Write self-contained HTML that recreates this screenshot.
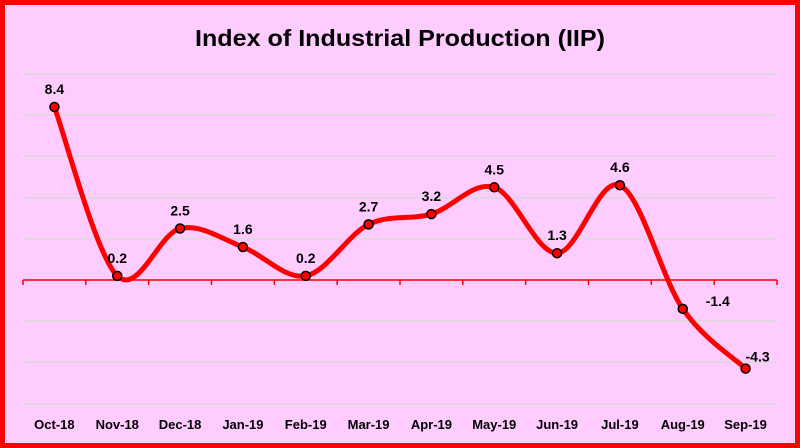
<!DOCTYPE html>
<html><head><meta charset="utf-8"><style>
html,body{margin:0;padding:0;width:800px;height:448px;overflow:hidden;background:#fff}
svg{display:block;font-family:"Liberation Sans",sans-serif}
</style></head><body>
<svg id="chart" width="800" height="448">
<rect x="2.5" y="2.5" width="795" height="443" fill="#FFCCFF" stroke="#FF0000" stroke-width="5"/>
<text x="400" y="46" text-anchor="middle" font-size="23" font-weight="bold" textLength="410" lengthAdjust="spacingAndGlyphs" fill="#000">Index of Industrial Production (IIP)</text>
<g id="grid"></g>
<g id="axis"></g>
<g id="series"></g>
</svg>
<script>
const categories=["Oct-18","Nov-18","Dec-18","Jan-19","Feb-19","Mar-19","Apr-19","May-19","Jun-19","Jul-19","Aug-19","Sep-19"];
const values=[8.4,0.2,2.5,1.6,0.2,2.7,3.2,4.5,1.3,4.6,-1.4,-4.3];
const gridValues=[10,8,6,4,2,-2,-4,-6];
const labels=["8.4","0.2","2.5","1.6","0.2","2.7","3.2","4.5","1.3","4.6","-1.4","-4.3"];

const NS="http://www.w3.org/2000/svg";
const left=23,right=777,zeroY=280,pxPerUnit=20.6;
const step=(right-left)/categories.length;
function xPos(i){return left+step*(i+0.5);}
function yPos(v){return zeroY-v*pxPerUnit;}
function mk(tag,attrs,parent){const e=document.createElementNS(NS,tag);for(const k in attrs)e.setAttribute(k,attrs[k]);parent.appendChild(e);return e;}

const grid=document.getElementById('grid');
gridValues.forEach(v=>{
  const l=mk('line',{x1:left,x2:right,y1:yPos(v),y2:yPos(v),stroke:'#D9D9D9','stroke-width':1.5},grid);
  
  
});

const axis=document.getElementById('axis');
const al=mk('line',{x1:left,x2:right,y1:zeroY,y2:zeroY,stroke:'#FF0000','stroke-width':1.5},axis);


for(let i=0;i<=categories.length;i++){
  const t=mk('line',{x1:left+step*i,x2:left+step*i,y1:zeroY,y2:zeroY+5,stroke:'#FF0000','stroke-width':1.5},axis);
  
  
}
categories.forEach((c,i)=>{
  const t=mk('text',{x:xPos(i),y:429,'text-anchor':'middle','font-size':13,'font-weight':'bold',fill:'#000'},axis);
  t.textContent=c;
  
  
});

const series=document.getElementById('series');
const pts=values.map((v,i)=>[xPos(i),yPos(v)]);
let d="M"+pts[0][0]+","+pts[0][1];
const tension=0.5/3*2;
for(let i=0;i<pts.length-1;i++){
  const p0=pts[Math.max(0,i-1)],p1=pts[i],p2=pts[i+1],p3=pts[Math.min(pts.length-1,i+2)];
  const t=1/6*2;
  const c1x=p1[0]+(p2[0]-p0[0])*t/2*1.0,c1y=p1[1]+(p2[1]-p0[1])*t/2*1.0;
  const c2x=p2[0]-(p3[0]-p1[0])*t/2*1.0,c2y=p2[1]-(p3[1]-p1[1])*t/2*1.0;
  d+=` C${c1x},${c1y} ${c2x},${c2y} ${p2[0]},${p2[1]}`;
}
const path=mk('path',{d:d,fill:'none',stroke:'#FF0000','stroke-width':5,'stroke-linecap':'round'},series);


pts.forEach((p,i)=>{
  const c=mk('circle',{cx:p[0],cy:p[1],r:4.5,fill:'#FF0000',stroke:'#000','stroke-width':1.5},series);
  
  
  let lx=p[0],ly=p[1]-13;
  if(i===10){lx=p[0]+35;ly=p[1]-3;}
  if(i===11){lx=p[0]+12;ly=p[1]-7;}
  const t=mk('text',{x:lx,y:ly,'text-anchor':'middle','font-size':14,'font-weight':'bold',fill:'#000'},series);
  t.textContent=labels[i];
  
  
});
</script>
</body></html>
